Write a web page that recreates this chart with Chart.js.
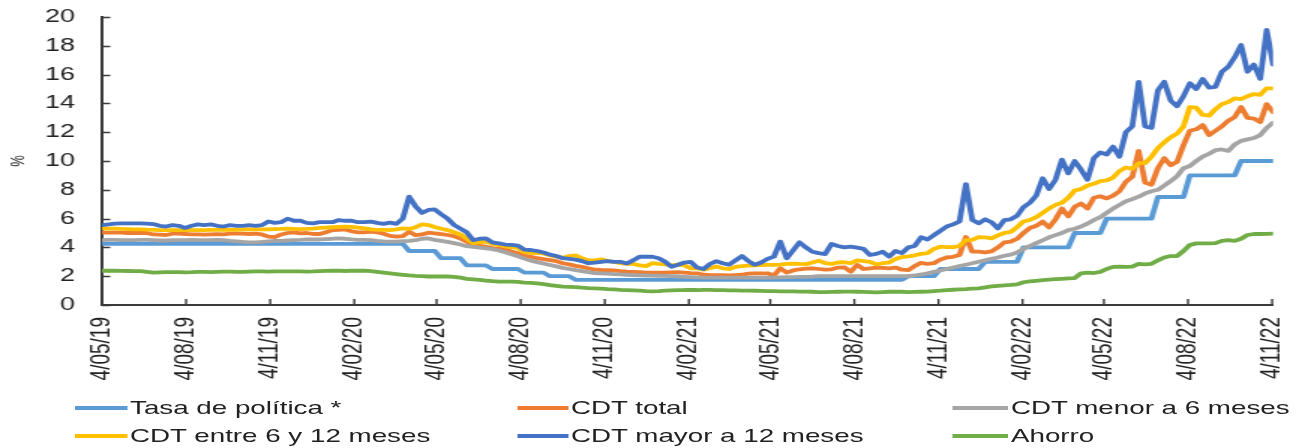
<!DOCTYPE html>
<html>
<head>
<meta charset="utf-8">
<script src="https://cdn.jsdelivr.net/npm/chart.js@4.4.1/dist/chart.umd.min.js"></script>
<style>
html, body { margin: 0; padding: 0; background: #ffffff; }
#wrap { position: relative; width: 1296px; height: 448px; overflow: hidden; background: #ffffff; }
#c { position: absolute; left: 0; top: 0; width: 1296px !important; height: 448px !important; }
#legend { position: absolute; left: 0; top: 0; width: 864px; height: 448px; transform: scaleX(1.5); transform-origin: 0 0; pointer-events: none;
  font-family: "Liberation Sans", Arial, sans-serif; font-size: 18.5px; color: #222222; }
.item { position: absolute; height: 24px; display: flex; align-items: center; white-space: nowrap; }
.sw { height: 4px; margin-right: 2px; flex: none; }
</style>
</head>
<body>
<div id="wrap">
  <canvas id="c" width="864" height="448" style="width:1296px;height:448px"></canvas>
  <div id="legend"></div>
</div>
<script>
// ---------- DATA ----------
const startDate = '2019-05-04';   // first weekly observation
const stepDays = 7;               // weekly data
const xTickLabels = ['4/05/19','4/08/19','4/11/19','4/02/20','4/05/20','4/08/20','4/11/20','4/02/21',
                     '4/05/21','4/08/21','4/11/21','4/02/22','4/05/22','4/08/22','4/11/22'];
const yTickStep = 2;
const yMin = 0, yMax = 20;

const seriesNames = ['Tasa de política *','CDT total','CDT menor a 6 meses','CDT entre 6 y 12 meses','CDT mayor a 12 meses','Ahorro'];
const seriesColors = ['#5B9BD5','#ED7D31','#A5A5A5','#FFC000','#4472C4','#70AD47'];

const tasaPolitica = [
 4.25,4.25,4.25,4.25,4.25,4.25,4.25,4.25,4.25,4.25,
 4.25,4.25,4.25,4.25,4.25,4.25,4.25,4.25,4.25,4.25,
 4.25,4.25,4.25,4.25,4.25,4.25,4.25,4.25,4.25,4.25,
 4.25,4.25,4.25,4.25,4.25,4.25,4.25,4.25,4.25,4.25,
 4.25,4.25,4.25,4.25,4.25,4.25,4.25,4.25,3.75,3.75,
 3.75,3.75,3.75,3.25,3.25,3.25,3.25,2.75,2.75,2.75,
 2.75,2.5,2.5,2.5,2.5,2.5,2.25,2.25,2.25,2.25,
 2.0,2.0,2.0,2.0,1.75,1.75,1.75,1.75,1.75,1.75,
 1.75,1.75,1.75,1.75,1.75,1.75,1.75,1.75,1.75,1.75,
 1.75,1.75,1.75,1.75,1.75,1.75,1.75,1.75,1.75,1.75,
 1.75,1.75,1.75,1.75,1.75,1.75,1.75,1.75,1.75,1.75,
 1.75,1.75,1.75,1.75,1.75,1.75,1.75,1.75,1.75,1.75,
 1.75,1.75,1.75,1.75,1.75,1.75,2.0,2.0,2.0,2.0,
 2.0,2.5,2.5,2.5,2.5,2.5,2.5,2.5,3.0,3.0,
 3.0,3.0,3.0,3.0,4.0,4.0,4.0,4.0,4.0,4.0,
 4.0,4.0,5.0,5.0,5.0,5.0,5.0,6.0,6.0,6.0,
 6.0,6.0,6.0,6.0,6.0,7.5,7.5,7.5,7.5,7.5,
 9.0,9.0,9.0,9.0,9.0,9.0,9.0,9.0,10.0,10.0,
 10.0,10.0,10.0,10.0
];

const cdtTotal = [
 5.02,5.02,5.02,5.02,5.0,5.0,5.0,5.0,4.9,4.88,
 4.86,4.95,4.95,4.93,4.9,4.9,4.88,4.9,4.92,4.9,
 4.95,4.95,4.95,4.93,4.95,4.9,4.75,4.72,4.9,5.0,
 5.05,4.98,5.0,4.93,4.93,5.05,5.2,5.22,5.25,5.12,
 5.05,5.05,5.09,5.05,4.95,4.8,4.75,4.78,5.09,4.85,
 4.9,5.02,4.98,4.93,4.86,4.78,4.62,4.4,4.15,4.1,
 4.05,3.95,3.92,3.85,3.72,3.6,3.42,3.35,3.25,3.18,
 3.12,3.05,2.9,2.82,2.72,2.65,2.55,2.45,2.43,2.42,
 2.4,2.35,2.32,2.3,2.28,2.25,2.25,2.25,2.25,2.27,
 2.28,2.25,2.22,2.2,2.1,2.08,2.07,2.07,2.06,2.08,
 2.1,2.18,2.2,2.2,2.2,2.05,2.55,2.25,2.4,2.48,
 2.52,2.55,2.5,2.45,2.48,2.6,2.62,2.31,2.78,2.5,
 2.55,2.6,2.58,2.55,2.6,2.45,2.42,2.7,2.93,2.85,
 2.9,3.15,3.3,3.35,3.47,4.72,3.7,3.7,3.65,3.72,
 4.0,4.35,4.4,4.6,5.0,5.35,5.5,5.79,5.39,5.95,
 6.7,6.15,6.82,7.05,6.7,7.45,7.55,7.4,7.6,7.9,
 8.56,8.9,10.7,8.5,8.35,9.5,10.2,9.7,9.95,11.1,
 12.1,12.2,12.5,11.8,12.1,12.4,12.8,13.05,13.75,13.0,
 12.95,12.7,13.95,13.4
];

const cdtMenor6 = [
 4.5,4.52,4.52,4.5,4.5,4.5,4.52,4.52,4.5,4.48,
 4.48,4.5,4.5,4.5,4.52,4.5,4.5,4.5,4.52,4.5,
 4.45,4.42,4.38,4.35,4.35,4.38,4.42,4.45,4.45,4.48,
 4.5,4.52,4.55,4.55,4.55,4.58,4.6,4.63,4.6,4.55,
 4.52,4.52,4.51,4.45,4.42,4.4,4.4,4.43,4.45,4.5,
 4.6,4.62,4.52,4.45,4.38,4.3,4.2,4.08,4.03,3.99,
 3.93,3.88,3.78,3.66,3.52,3.38,3.22,3.08,2.98,2.88,
 2.78,2.68,2.58,2.5,2.42,2.35,2.28,2.22,2.2,2.18,
 2.15,2.12,2.1,2.08,2.06,2.05,2.04,2.03,2.02,2.0,
 1.98,1.96,1.94,1.92,1.9,1.9,1.9,1.9,1.9,1.9,
 1.9,1.9,1.9,1.9,1.9,1.9,1.92,1.93,1.94,1.95,
 1.95,1.97,2.0,2.0,2.0,2.0,2.0,2.0,2.0,2.0,
 2.0,2.0,2.0,2.0,2.0,2.0,2.0,2.05,2.12,2.2,
 2.3,2.4,2.5,2.6,2.7,2.8,2.9,3.0,3.1,3.2,
 3.3,3.42,3.5,3.65,3.9,4.1,4.3,4.5,4.7,4.85,
 5.0,5.2,5.3,5.45,5.65,5.9,6.1,6.4,6.7,6.95,
 7.2,7.35,7.52,7.75,7.9,8.0,8.3,8.6,8.95,9.5,
 9.65,10.0,10.3,10.5,10.75,10.8,10.7,11.15,11.4,11.5,
 11.6,11.8,12.3,12.66
];

const cdtEntre6y12 = [
 5.32,5.3,5.3,5.28,5.27,5.25,5.25,5.23,5.22,5.2,
 5.2,5.2,5.2,5.2,5.2,5.2,5.2,5.22,5.22,5.22,
 5.22,5.22,5.25,5.25,5.25,5.25,5.25,5.27,5.28,5.3,
 5.28,5.27,5.28,5.3,5.35,5.38,5.4,5.42,5.44,5.42,
 5.38,5.32,5.25,5.22,5.22,5.2,5.25,5.32,5.28,5.4,
 5.6,5.55,5.42,5.3,5.2,5.05,4.9,4.6,4.3,4.35,
 4.4,4.25,4.18,4.07,4.02,3.97,3.67,3.62,3.6,3.58,
 3.45,3.35,3.28,3.4,3.45,3.25,3.1,3.1,3.17,3.05,
 3.0,2.9,2.85,2.85,2.75,2.7,2.9,2.85,2.82,2.75,
 2.8,2.75,2.55,2.55,2.45,2.55,2.68,2.55,2.5,2.65,
 2.7,2.73,2.75,2.77,2.78,2.78,2.8,2.85,2.88,2.85,
 2.84,2.95,3.08,2.9,2.85,2.95,2.97,2.9,3.1,3.05,
 3.0,2.82,2.9,2.95,3.2,3.33,3.37,3.45,3.55,3.6,
 3.9,4.05,4.02,4.02,4.1,4.5,4.52,4.72,4.7,4.63,
 4.83,5.0,5.08,5.4,5.8,5.9,6.1,6.4,6.7,6.95,
 7.1,7.45,7.95,8.05,8.3,8.42,8.6,8.65,8.85,9.3,
 9.55,9.45,9.85,9.85,10.3,10.9,11.3,11.65,11.9,12.4,
 13.75,13.7,13.2,13.15,13.6,13.95,14.1,14.35,14.3,14.5,
 14.65,14.6,15.05,15.05
];

const cdtMayor12 = [
 5.55,5.6,5.65,5.67,5.67,5.67,5.67,5.65,5.62,5.5,
 5.45,5.55,5.5,5.35,5.5,5.6,5.55,5.6,5.5,5.45,
 5.55,5.5,5.5,5.55,5.5,5.55,5.8,5.7,5.75,6.0,
 5.85,5.85,5.7,5.67,5.75,5.75,5.75,5.9,5.85,5.85,
 5.75,5.75,5.79,5.7,5.63,5.72,5.63,6.0,7.52,6.85,
 6.4,6.6,6.64,6.3,6.0,5.56,5.3,5.05,4.5,4.6,
 4.62,4.35,4.28,4.2,4.17,4.12,3.84,3.82,3.75,3.65,
 3.5,3.4,3.25,3.2,3.15,3.05,2.9,2.95,3.0,3.05,
 3.0,3.0,2.88,3.1,3.35,3.36,3.35,3.25,3.0,2.66,
 2.8,2.95,3.0,2.6,2.5,2.85,3.05,2.9,2.8,3.1,
 3.4,3.05,2.8,2.95,3.2,3.36,4.4,3.24,3.8,4.35,
 4.0,3.7,3.6,3.54,4.24,4.1,4.0,4.05,3.98,3.9,
 3.47,3.55,3.7,3.36,3.75,3.6,4.0,4.1,4.7,4.55,
 4.85,5.15,5.45,5.6,5.8,8.4,5.9,5.67,5.95,5.75,
 5.32,5.9,5.95,6.2,6.8,7.1,7.6,8.8,8.05,8.7,
 10.1,9.14,10.0,9.4,8.7,10.2,10.6,10.45,11.0,10.3,
 12.0,12.4,15.5,12.4,12.3,14.9,15.5,14.2,13.8,14.5,
 15.4,15.0,15.7,15.1,15.15,16.2,16.55,17.2,18.05,16.2,
 16.7,15.7,19.1,16.7
];

const ahorro = [
 2.38,2.38,2.38,2.37,2.36,2.35,2.35,2.3,2.25,2.27,
 2.28,2.28,2.28,2.27,2.28,2.3,2.3,2.28,2.3,2.32,
 2.32,2.3,2.3,2.32,2.33,2.33,2.32,2.33,2.33,2.33,
 2.33,2.33,2.32,2.33,2.35,2.37,2.38,2.38,2.36,2.38,
 2.38,2.38,2.35,2.3,2.25,2.2,2.15,2.1,2.05,2.02,
 2.0,1.98,1.98,1.98,1.98,1.95,1.9,1.82,1.78,1.74,
 1.7,1.66,1.63,1.63,1.62,1.6,1.55,1.53,1.5,1.45,
 1.38,1.33,1.28,1.26,1.24,1.2,1.17,1.15,1.13,1.1,
 1.08,1.05,1.04,1.02,1.0,0.96,0.95,0.97,1.0,1.02,
 1.03,1.04,1.04,1.04,1.05,1.05,1.04,1.03,1.02,1.01,
 1.0,1.0,0.99,0.98,0.97,0.96,0.95,0.95,0.94,0.93,
 0.93,0.92,0.9,0.9,0.91,0.92,0.93,0.93,0.92,0.91,
 0.9,0.88,0.9,0.92,0.93,0.92,0.9,0.91,0.92,0.93,
 0.97,1.0,1.04,1.06,1.08,1.1,1.13,1.16,1.22,1.29,
 1.33,1.36,1.39,1.43,1.58,1.64,1.68,1.72,1.76,1.79,
 1.82,1.85,1.87,2.2,2.25,2.22,2.3,2.5,2.65,2.66,
 2.65,2.66,2.85,2.82,2.86,3.1,3.3,3.4,3.4,3.75,
 4.17,4.28,4.28,4.28,4.3,4.45,4.5,4.45,4.6,4.86,
 4.93,4.93,4.94,4.95
];

// ---------- LAYOUT / STYLE ----------
const STRETCH = 1.5;                 // the picture is horizontally stretched
const FONT = '"Liberation Sans", Arial, sans-serif';
const TEXT = '#222222';
const AXIS = '#3a3a3a';

const dayMs = 86400000;
const t0 = Date.parse(startDate + 'T00:00:00Z');
function labelToDay(lbl) {
  const [d, m, y] = lbl.split('/').map(Number);
  return Math.round((Date.UTC(2000 + y, m - 1, d) - t0) / dayMs);
}
const xTickDays = xTickLabels.map(labelToDay);
const allSeries = [tasaPolitica, cdtTotal, cdtMenor6, cdtEntre6y12, cdtMayor12, ahorro];
const nPts = tasaPolitica.length;
const xMax = (nPts - 1) * stepDays;

const datasets = allSeries.map((vals, k) => ({
  label: seriesNames[k],
  data: vals.map((v, i) => ({ x: i * stepDays, y: v })),
  borderColor: seriesColors[k],
  backgroundColor: seriesColors[k],
  borderWidth: 3.8,
  pointRadius: 0,
  pointHoverRadius: 0,
  tension: 0,
  fill: false,
  borderJoinStyle: 'round',
  borderCapStyle: 'round',
  order: allSeries.length - k
}));

const insideTicks = {
  id: 'insideTicks',
  afterDatasetsDraw(chart) {
    const { ctx, chartArea: a, scales: { x, y } } = chart;
    ctx.save();
    ctx.strokeStyle = AXIS;
    ctx.lineWidth = 1.4;
    ctx.beginPath();
    y.ticks.forEach(t => {
      const py = Math.round(y.getPixelForValue(t.value)) + 0.5;
      ctx.moveTo(a.left, py); ctx.lineTo(a.left + 5.5, py);
    });
    x.ticks.forEach(t => {
      const px = x.getPixelForValue(t.value);
      ctx.moveTo(px, a.bottom); ctx.lineTo(px, a.bottom - 6);
    });
    ctx.stroke();
    ctx.restore();
  }
};

new Chart(document.getElementById('c'), {
  type: 'line',
  data: { datasets },
  options: {
    responsive: false,
    devicePixelRatio: 1,
    animation: false,
    events: [],
    layout: { padding: { left: 0, right: 15.3, top: 17, bottom: 0 } },
    plugins: { legend: { display: false }, tooltip: { enabled: false } },
    scales: {
      x: {
        type: 'linear',
        min: 0,
        max: xMax,
        afterBuildTicks: s => { s.ticks = xTickDays.map(v => ({ value: v })); },
        afterFit: s => { s.height = 143; s.paddingLeft = 0; s.paddingRight = 0; },
        ticks: {
          autoSkip: false,
          minRotation: 90,
          maxRotation: 90,
          padding: 12,
          color: TEXT,
          font: { family: FONT, size: 19 },
          callback: v => xTickLabels[xTickDays.indexOf(v)]
        },
        grid: { display: true, drawOnChartArea: false, drawTicks: false },
        border: { display: true, color: AXIS, width: 2 }
      },
      y: {
        min: yMin,
        max: yMax,
        afterFit: s => { s.width = 68; s.paddingTop = 0; s.paddingBottom = 0; },
        ticks: {
          stepSize: yTickStep,
          padding: 18,
          color: TEXT,
          font: { family: FONT, size: 18 }
        },
        title: { display: true, text: '%', color: TEXT, font: { family: FONT, size: 13 }, padding: { top: 5, bottom: 0 } },
        grid: { display: true, drawOnChartArea: false, drawTicks: false },
        border: { display: true, color: AXIS, width: 2 }
      }
    }
  },
  plugins: [insideTicks]
});

// ---------- LEGEND (HTML, same horizontal stretch) ----------
const legendCols = [{ sw: 50, w: 34.7 }, { sw: 344.7, w: 34 }, { sw: 635.3, w: 36.7 }];
const legendRows = [408, 436];
const legend = document.getElementById('legend');
seriesNames.forEach((name, k) => {
  const col = legendCols[k % 3], row = legendRows[Math.floor(k / 3)];
  const it = document.createElement('div');
  it.className = 'item';
  it.style.left = col.sw + 'px';
  it.style.top = (row - 12) + 'px';
  const sw = document.createElement('span');
  sw.className = 'sw';
  sw.style.width = col.w + 'px';
  sw.style.background = seriesColors[k];
  const tx = document.createElement('span');
  tx.textContent = name;
  it.appendChild(sw); it.appendChild(tx);
  legend.appendChild(it);
});
</script>
</body>
</html>
